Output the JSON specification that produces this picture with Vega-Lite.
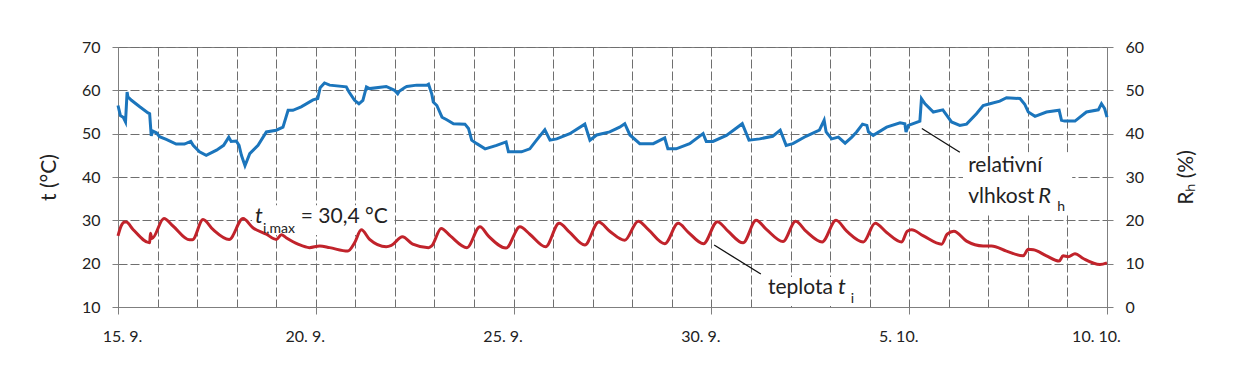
{
  "$schema": "https://vega.github.io/schema/vega-lite/v6.json",
  "width": 989,
  "height": 260,
  "autosize": "none",
  "padding": {"left": 118, "top": 47, "right": 135, "bottom": 67},
  "background": "white",
  "config": {
    "font": "Lato",
    "view": {"stroke": "#7f7f7f", "strokeWidth": 1},
    "axis": {
      "labelFont": "Lato",
      "labelFontSize": 16,
      "labelColor": "#222222",
      "titleFont": "Lato",
      "titleFontSize": 21,
      "titleFontWeight": "normal",
      "titleColor": "#222222",
      "domainColor": "#7f7f7f",
      "tickColor": "#7f7f7f",
      "gridColor": "#6f6f6f",
      "gridDash": [9, 3],
      "gridWidth": 1
    }
  },
  "datasets": {
    "teplota": [
      {"den": 0, "t": 26.4}, {"den": 0.08, "t": 28.7}, {"den": 0.17, "t": 29.6}, {"den": 0.21, "t": 29.6},
      {"den": 0.38, "t": 27.9}, {"den": 0.8, "t": 24.8}, {"den": 0.82, "t": 27.0}, {"den": 0.86, "t": 25.8},
      {"den": 1.16, "t": 30.4}, {"den": 1.39, "t": 28.7}, {"den": 1.81, "t": 25.5}, {"den": 1.88, "t": 25.5},
      {"den": 2.15, "t": 30.2}, {"den": 2.4, "t": 27.9}, {"den": 2.81, "t": 25.6}, {"den": 3.16, "t": 30.4},
      {"den": 3.41, "t": 28.3}, {"den": 3.75, "t": 26.8}, {"den": 4.0, "t": 25.6}, {"den": 4.13, "t": 26.7},
      {"den": 4.25, "t": 26.0}, {"den": 4.55, "t": 24.5}, {"den": 4.84, "t": 23.7}, {"den": 5.1, "t": 24.1},
      {"den": 5.35, "t": 23.7}, {"den": 5.81, "t": 22.9}, {"den": 5.98, "t": 24.8}, {"den": 6.15, "t": 27.8},
      {"den": 6.36, "t": 25.6}, {"den": 6.78, "t": 23.9}, {"den": 6.91, "t": 24.2}, {"den": 7.19, "t": 26.2},
      {"den": 7.45, "t": 24.5}, {"den": 7.85, "t": 23.7}, {"den": 7.93, "t": 24.1}, {"den": 8.17, "t": 28.1},
      {"den": 8.4, "t": 26.4}, {"den": 8.82, "t": 23.7}, {"den": 9.15, "t": 28.5}, {"den": 9.36, "t": 26.4},
      {"den": 9.81, "t": 23.6}, {"den": 10.16, "t": 28.5}, {"den": 10.41, "t": 26.8}, {"den": 10.81, "t": 23.9},
      {"den": 11.15, "t": 29.3}, {"den": 11.42, "t": 27.2}, {"den": 11.8, "t": 24.3}, {"den": 12.15, "t": 29.6},
      {"den": 12.43, "t": 27.5}, {"den": 12.81, "t": 25.4}, {"den": 13.15, "t": 29.8}, {"den": 13.4, "t": 27.9},
      {"den": 13.82, "t": 24.6}, {"den": 14.16, "t": 29.3}, {"den": 14.41, "t": 27.3}, {"den": 14.8, "t": 24.6},
      {"den": 15.15, "t": 29.7}, {"den": 15.42, "t": 27.5}, {"den": 15.8, "t": 24.8}, {"den": 16.13, "t": 30.0},
      {"den": 16.39, "t": 27.9}, {"den": 16.81, "t": 25.1}, {"den": 17.13, "t": 29.8}, {"den": 17.39, "t": 27.5},
      {"den": 17.8, "t": 25.0}, {"den": 18.15, "t": 30.0}, {"den": 18.42, "t": 27.5}, {"den": 18.84, "t": 25.0},
      {"den": 19.14, "t": 29.3}, {"den": 19.43, "t": 27.2}, {"den": 19.81, "t": 25.0}, {"den": 19.95, "t": 27.5},
      {"den": 20.06, "t": 27.8}, {"den": 20.36, "t": 26.4}, {"den": 20.82, "t": 24.5}, {"den": 20.96, "t": 26.8},
      {"den": 21.13, "t": 27.5}, {"den": 21.45, "t": 25.2}, {"den": 21.87, "t": 24.1}, {"den": 22.08, "t": 24.1},
      {"den": 22.46, "t": 22.9}, {"den": 22.88, "t": 21.8}, {"den": 23.01, "t": 23.3}, {"den": 23.14, "t": 23.2},
      {"den": 23.47, "t": 21.8}, {"den": 23.79, "t": 20.6}, {"den": 23.89, "t": 21.8}, {"den": 24.02, "t": 21.6},
      {"den": 24.19, "t": 22.3}, {"den": 24.4, "t": 21.2}, {"den": 24.82, "t": 19.8}, {"den": 25.0, "t": 20.2}
    ],
    "vlhkost": [
      {"den": 0, "rh": 46.5}, {"den": 0.06, "rh": 44.2}, {"den": 0.13, "rh": 43.8}, {"den": 0.19, "rh": 42.7},
      {"den": 0.23, "rh": 49.6}, {"den": 0.25, "rh": 48.5}, {"den": 0.34, "rh": 47.7}, {"den": 0.55, "rh": 46.2},
      {"den": 0.76, "rh": 44.8}, {"den": 0.8, "rh": 44.6}, {"den": 0.84, "rh": 39.5}, {"den": 0.88, "rh": 40.6},
      {"den": 0.97, "rh": 40.2}, {"den": 1.05, "rh": 39.3}, {"den": 1.22, "rh": 38.7}, {"den": 1.47, "rh": 37.6},
      {"den": 1.68, "rh": 37.6}, {"den": 1.84, "rh": 38.2}, {"den": 1.9, "rh": 37.3}, {"den": 2.06, "rh": 35.8},
      {"den": 2.23, "rh": 35.0}, {"den": 2.49, "rh": 36.2}, {"den": 2.67, "rh": 37.3}, {"den": 2.8, "rh": 39.2},
      {"den": 2.86, "rh": 38.2}, {"den": 2.99, "rh": 38.3}, {"den": 3.06, "rh": 37.3}, {"den": 3.12, "rh": 35.0},
      {"den": 3.21, "rh": 32.6}, {"den": 3.33, "rh": 35.4}, {"den": 3.54, "rh": 37.3}, {"den": 3.75, "rh": 40.4},
      {"den": 4.0, "rh": 40.8}, {"den": 4.17, "rh": 41.5}, {"den": 4.3, "rh": 45.4}, {"den": 4.42, "rh": 45.4},
      {"den": 4.63, "rh": 46.2}, {"den": 4.93, "rh": 47.8}, {"den": 5.05, "rh": 48.1}, {"den": 5.11, "rh": 50.6},
      {"den": 5.22, "rh": 51.7}, {"den": 5.35, "rh": 51.2}, {"den": 5.77, "rh": 50.8}, {"den": 5.84, "rh": 49.6},
      {"den": 5.98, "rh": 47.7}, {"den": 6.09, "rh": 46.9}, {"den": 6.19, "rh": 47.7}, {"den": 6.28, "rh": 50.8},
      {"den": 6.36, "rh": 50.4}, {"den": 6.78, "rh": 50.9}, {"den": 6.99, "rh": 50.0}, {"den": 7.07, "rh": 49.2},
      {"den": 7.11, "rh": 49.8}, {"den": 7.24, "rh": 50.6}, {"den": 7.3, "rh": 50.9}, {"den": 7.55, "rh": 51.2},
      {"den": 7.81, "rh": 51.2}, {"den": 7.85, "rh": 51.4}, {"den": 7.93, "rh": 49.2}, {"den": 7.97, "rh": 47.3},
      {"den": 8.06, "rh": 46.5}, {"den": 8.19, "rh": 43.8}, {"den": 8.31, "rh": 43.2}, {"den": 8.48, "rh": 42.3},
      {"den": 8.77, "rh": 42.2}, {"den": 8.86, "rh": 41.2}, {"den": 8.94, "rh": 38.5}, {"den": 9.07, "rh": 37.7},
      {"den": 9.28, "rh": 36.5}, {"den": 9.57, "rh": 37.3}, {"den": 9.81, "rh": 38.1}, {"den": 9.87, "rh": 35.8},
      {"den": 10.0, "rh": 35.8}, {"den": 10.2, "rh": 35.8}, {"den": 10.41, "rh": 36.5}, {"den": 10.58, "rh": 38.5},
      {"den": 10.79, "rh": 40.9}, {"den": 10.92, "rh": 38.5}, {"den": 11.09, "rh": 38.8}, {"den": 11.42, "rh": 40.0},
      {"den": 11.8, "rh": 42.2}, {"den": 11.93, "rh": 38.5}, {"den": 12.1, "rh": 39.7}, {"den": 12.43, "rh": 40.4},
      {"den": 12.68, "rh": 41.5}, {"den": 12.81, "rh": 42.3}, {"den": 12.94, "rh": 39.7}, {"den": 13.19, "rh": 37.7},
      {"den": 13.53, "rh": 37.7}, {"den": 13.82, "rh": 39.0}, {"den": 13.9, "rh": 36.5}, {"den": 14.11, "rh": 36.5},
      {"den": 14.45, "rh": 37.7}, {"den": 14.79, "rh": 40.0}, {"den": 14.87, "rh": 38.2}, {"den": 15.04, "rh": 38.2},
      {"den": 15.38, "rh": 39.6}, {"den": 15.78, "rh": 42.3}, {"den": 15.95, "rh": 38.5}, {"den": 16.22, "rh": 38.8},
      {"den": 16.55, "rh": 39.4}, {"den": 16.74, "rh": 40.8}, {"den": 16.89, "rh": 37.3}, {"den": 17.06, "rh": 37.7},
      {"den": 17.39, "rh": 39.4}, {"den": 17.73, "rh": 40.8}, {"den": 17.85, "rh": 43.1}, {"den": 17.9, "rh": 40.4},
      {"den": 18.04, "rh": 38.8}, {"den": 18.21, "rh": 39.2}, {"den": 18.38, "rh": 37.8}, {"den": 18.55, "rh": 39.2},
      {"den": 18.67, "rh": 40.4}, {"den": 18.82, "rh": 42.2}, {"den": 18.93, "rh": 41.9}, {"den": 18.97, "rh": 40.4},
      {"den": 19.09, "rh": 39.6}, {"den": 19.43, "rh": 41.5}, {"den": 19.77, "rh": 42.5}, {"den": 19.89, "rh": 42.3},
      {"den": 19.92, "rh": 40.4}, {"den": 19.98, "rh": 41.9}, {"den": 20.27, "rh": 42.9}, {"den": 20.31, "rh": 48.1},
      {"den": 20.4, "rh": 46.9}, {"den": 20.61, "rh": 45.0}, {"den": 20.85, "rh": 45.5}, {"den": 20.95, "rh": 44.2},
      {"den": 21.07, "rh": 42.7}, {"den": 21.28, "rh": 41.9}, {"den": 21.45, "rh": 42.2}, {"den": 21.7, "rh": 44.6},
      {"den": 21.87, "rh": 46.5}, {"den": 22.04, "rh": 46.9}, {"den": 22.29, "rh": 47.5}, {"den": 22.46, "rh": 48.3},
      {"den": 22.8, "rh": 48.1}, {"den": 22.92, "rh": 46.8}, {"den": 23.01, "rh": 45.0}, {"den": 23.18, "rh": 44.0},
      {"den": 23.47, "rh": 45.0}, {"den": 23.79, "rh": 45.4}, {"den": 23.85, "rh": 43.1}, {"den": 23.93, "rh": 42.9},
      {"den": 24.19, "rh": 42.9}, {"den": 24.48, "rh": 45.0}, {"den": 24.78, "rh": 45.5}, {"den": 24.86, "rh": 46.9},
      {"den": 24.94, "rh": 45.8}, {"den": 25.0, "rh": 43.8}
    ],
    "ramecky": [
      {"den": 3.39, "den2": 6.93, "t": 33.5, "t2": 26.6},
      {"den": 16.3, "den2": 18.81, "t": 16.9, "t2": 10.25},
      {"den": 21.36, "den2": 24.12, "t": 45.7, "t2": 31.5}
    ],
    "odkazy": [
      {"den": 15.07, "t": 24.3, "den2": 16.25, "t2": 17.6},
      {"den": 20.32, "t": 51.2, "den2": 21.28, "t2": 45.7}
    ],
    "popisky": [
      {"den": 4.62, "t": 29.4, "popis": "= 30,4 °C"},
      {"den": 16.43, "t": 12.93, "popis": "teplota"},
      {"den": 21.49, "t": 41.08, "popis": "relativní"},
      {"den": 21.49, "t": 34.07, "popis": "vlhkost"}
    ],
    "symboly": [
      {"den": 3.46, "t": 29.4, "popis": "t"},
      {"den": 18.2, "t": 12.93, "popis": "t"},
      {"den": 23.26, "t": 34.07, "popis": "R"}
    ],
    "indexy": [
      {"den": 3.665, "t": 27.1, "popis": "i,max"},
      {"den": 18.52, "t": 10.95, "popis": "i"},
      {"den": 23.74, "t": 32.15, "popis": "h"}
    ]
  },
  "encoding": {
    "x": {
      "field": "den",
      "type": "quantitative",
      "scale": {"domain": [0, 25], "nice": false, "zero": false},
      "axis": {
        "title": null,
        "values": [0,1,2,3,4,5,6,7,8,9,10,11,12,13,14,15,16,17,18,19,20,21,22,23,24,25],
        "grid": true,
        "tickSize": 7,
        "tickOpacity": {"condition": {"test": "datum.value % 5 === 0", "value": 1}, "value": 0},
        "labelExpr": "datum.value % 5 !== 0 ? '' : (datum.value <= 15 ? (datum.value + 15) + '. 9.' : (datum.value - 15) + '. 10.')",
        "labelOffset": {"condition": {"test": "datum.value === 0", "value": 4}, "value": -11},
        "labelFlush": false,
        "labelOverlap": false,
        "labelBound": false,
        "labelPadding": 14
      }
    }
  },
  "layer": [
    {
      "encoding": {
        "y": {
          "field": "t",
          "type": "quantitative",
          "scale": {"domain": [10, 70], "nice": false, "zero": false},
          "axis": {
            "orient": "left",
            "values": [10, 20, 30, 40, 50, 60, 70],
            "grid": true,
            "tickSize": 6,
            "labelPadding": 12,
            "title": "t (°C)",
            "titlePadding": 22
          }
        }
      },
      "layer": [
        {
          "data": {"name": "ramecky"},
          "mark": {"type": "rect", "fill": "white"},
          "encoding": {"x2": {"field": "den2"}, "y2": {"field": "t2"}}
        },
        {
          "data": {"name": "teplota"},
          "mark": {"type": "line", "color": "#c1232b", "strokeWidth": 3, "interpolate": "monotone"}
        },
        {
          "data": {"name": "odkazy"},
          "mark": {"type": "rule", "color": "#111111", "strokeWidth": 1.3},
          "encoding": {"x2": {"field": "den2"}, "y2": {"field": "t2"}}
        },
        {
          "data": {"name": "popisky"},
          "mark": {"type": "text", "align": "left", "baseline": "alphabetic", "fontSize": 21, "color": "#222222"},
          "encoding": {"text": {"field": "popis"}}
        },
        {
          "data": {"name": "symboly"},
          "mark": {"type": "text", "align": "left", "baseline": "alphabetic", "fontSize": 22, "fontStyle": "italic", "color": "#222222"},
          "encoding": {"text": {"field": "popis"}}
        },
        {
          "data": {"name": "indexy"},
          "mark": {"type": "text", "align": "left", "baseline": "alphabetic", "fontSize": 14, "color": "#222222"},
          "encoding": {"text": {"field": "popis"}}
        }
      ]
    },
    {
      "data": {"name": "vlhkost"},
      "mark": {"type": "line", "color": "#1b75bc", "strokeWidth": 3},
      "encoding": {
        "y": {
          "field": "rh",
          "type": "quantitative",
          "scale": {"domain": [0, 60], "nice": false, "zero": false},
          "axis": {
            "orient": "right",
            "values": [0, 10, 20, 30, 40, 50, 60],
            "grid": false,
            "tickSize": 6,
            "labelPadding": 12,
            "title": "Rₕ (%)",
            "titleAngle": 270,
            "titlePadding": 53
          }
        }
      }
    }
  ],
  "resolve": {"scale": {"y": "independent"}}
}
